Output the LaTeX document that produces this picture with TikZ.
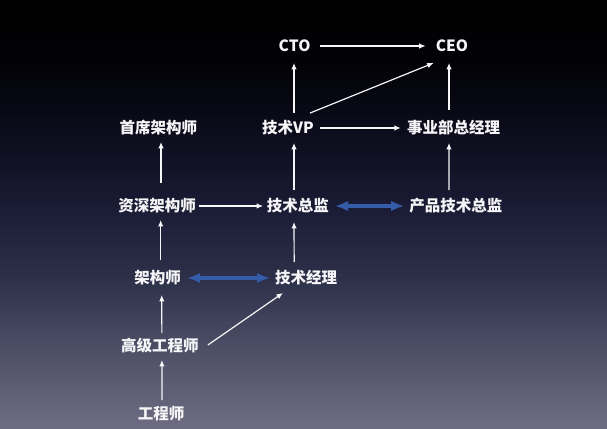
\documentclass[tikz,border=0pt]{standalone}
\usepackage{fontspec}
\setmainfont{Noto Sans CJK SC}
\usetikzlibrary{arrows.meta}
\definecolor{bgA}{RGB}{0,0,0}
\definecolor{bgB}{RGB}{2,2,6}
\definecolor{bgC}{RGB}{12,12,28}
\definecolor{bgD}{RGB}{26,27,52}
\definecolor{bgE}{RGB}{46,48,74}
\definecolor{bgF}{RGB}{76,78,102}
\definecolor{bgG}{RGB}{110,108,130}
\definecolor{dblue}{RGB}{52,92,168}
\definecolor{txt}{RGB}{246,246,248}
\newcommand{\bgseg}[4]{%
  \pgfmathtruncatemacro{\bgN}{(#2-#1)/2}%
  \foreach \k in {0,...,\bgN}{%
    \pgfmathsetmacro{\bgP}{100*\k/\bgN}%
    \fill[#4!\bgP!#3] (0,{#1+2*\k}) rectangle (607,{#1+2*\k+2.6});%
  }%
}
\tikzset{
  lbl/.style={text=txt, font=\bfseries\fontsize{15.5pt}{17pt}\selectfont, inner sep=0pt, text height=13.5pt, text depth=2pt},
  wa/.style={draw=txt, line width=1.2pt, -{Latex[length=6.5pt,width=5.5pt]}},
  ba/.style={draw=dblue, line width=4pt, {Latex[length=13pt,width=10.5pt]}-{Latex[length=13pt,width=10.5pt]}}
}
\begin{document}
\begin{tikzpicture}[x=1pt,y=-1pt]
\useasboundingbox (0,0) rectangle (607,428);
\bgseg{0}{60}{bgA}{bgB}
\bgseg{60}{130}{bgB}{bgC}
\bgseg{130}{206}{bgC}{bgD}
\bgseg{206}{278}{bgD}{bgE}
\bgseg{278}{346}{bgE}{bgF}
\bgseg{346}{428}{bgF}{bgG}

\node[lbl] (cto) at (294.6,46) {CTO};
\node[lbl] (ceo) at (452,46) {CEO};
\node[lbl] (sx) at (158.3,128) {首席架构师};
\node[lbl] (vp) at (288,128) {技术VP};
\node[lbl] (bu) at (453.5,128) {事业部总经理};
\node[lbl] (zs) at (157.2,206) {资深架构师};
\node[lbl] (zj) at (297.8,206) {技术总监};
\node[lbl] (cp) at (455.9,206) {产品技术总监};
\node[lbl] (jg) at (157.7,278) {架构师};
\node[lbl] (jl) at (306.2,278) {技术经理};
\node[lbl] (gj) at (159.9,346) {高级工程师};
\node[lbl] (gc) at (161,414) {工程师};

% top level
\draw[wa, shorten <=9pt, shorten >=10pt] (cto.east) -- (ceo.west);
\draw[wa, shorten <=7pt, shorten >=9pt] ([xshift=6]vp.north) -- ([xshift=-0.6]cto.south);
\draw[wa] ([shift={(-4,-7)}]vp.north east) -- ([shift={(-2,9)}]ceo.south west);
\draw[wa, shorten <=6pt, shorten >=6pt] (vp.east) -- (bu.west);
\draw[wa, shorten <=10pt, shorten >=9pt] ([xshift=-4.5]bu.north) -- ([xshift=-3]ceo.south);
% second level
\draw[wa, shorten <=15pt, shorten >=6pt] ([xshift=3.8]zs.north) -- ([xshift=2.7]sx.south);
\draw[wa, shorten <=8pt, shorten >=7pt] ([xshift=-3.8]zj.north) -- ([xshift=6]vp.south);
\draw[wa, shorten <=8pt, shorten >=7pt] ([xshift=-7]cp.north) -- ([xshift=-4.5]bu.south);
\draw[wa, shorten <=3pt, shorten >=3.5pt] (zs.east) -- (zj.west);
\draw[ba, shorten <=6pt, shorten >=5pt] (zj.east) -- (cp.west);
% third level
\draw[wa, shorten <=10pt, shorten >=6pt] ([xshift=3]jg.north) -- ([xshift=3.5]zs.south);
\draw[wa, shorten <=8pt, shorten >=8pt] ([xshift=-12]jl.north) -- ([xshift=-3.8]zj.south);
\draw[ba, shorten <=6pt, shorten >=5pt] (jg.east) -- (jl.west);
% bottom
\draw[wa, shorten <=5pt, shorten >=9pt] ([xshift=2]gj.north) -- ([xshift=4]jg.south);
\draw[wa] ([shift={(9,-1)}]gj.east) -- ([shift={(8,7)}]jl.south west);
\draw[wa, shorten <=6pt, shorten >=6pt] ([xshift=1]gc.north) -- ([xshift=2]gj.south);
\end{tikzpicture}
\end{document}
